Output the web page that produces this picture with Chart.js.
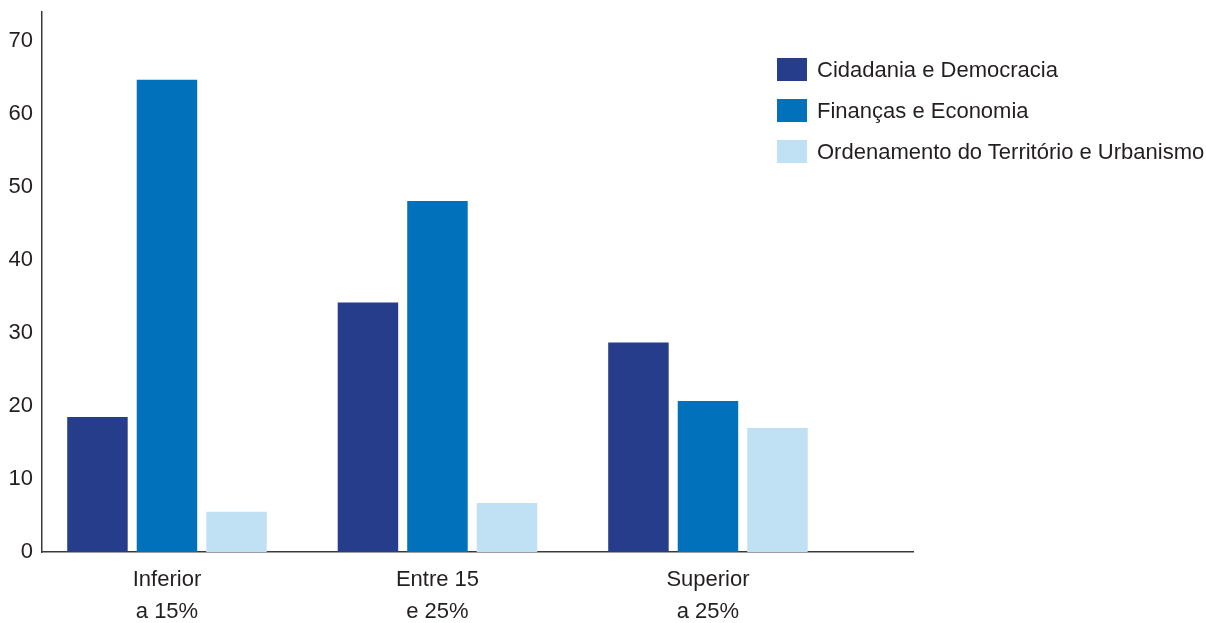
<!DOCTYPE html>
<html>
<head>
<meta charset="utf-8">
<title>Distribuição por tema</title>
<script src="https://cdn.jsdelivr.net/npm/chart.js@4.4.1/dist/chart.umd.min.js"></script>
<style>
    html, body { margin: 0; padding: 0; background: #fff; }
    #wrap { position: relative; width: 1206px; height: 623px; }
    #legend {
        position: absolute; left: 777px; top: 58px;
        font-family: 'Liberation Sans', Arial, sans-serif; font-size: 22px; color: #231f20;
    }
    .item { display: flex; align-items: center; height: 23px; margin-bottom: 18px; white-space: nowrap; }
    .swatch { width: 30px; height: 23px; margin-right: 10px; flex: none; }
</style>
</head>
<body>
<div id="wrap">
    <canvas id="chart"></canvas>
    <div id="legend"></div>
</div>
<script>
// Data
const categories = [['Inferior', 'a 15%'], ['Entre 15', 'e 25%'], ['Superior', 'a 25%']];
const seriesNames = ['Cidadania e Democracia', 'Finanças e Economia', 'Ordenamento do Território e Urbanismo'];
const cidadania = [18.5, 34.2, 28.7];
const financas = [64.7, 48.1, 20.7];
const ordenamento = [5.5, 6.7, 17.0];
const yTicks = [0, 10, 20, 30, 40, 50, 60, 70];

const seriesColors = ['#253d8b', '#0071ba', '#bfe1f3'];
const textColor = '#231f20';

Chart.defaults.font.family = "'Liberation Sans', Arial, sans-serif";
Chart.defaults.color = textColor;

function toPoints(values) {
    return values.map((v, i) => ({ x: i, y: v }));
}

const datasets = [cidadania, financas, ordenamento].map((values, i) => ({
    label: seriesNames[i],
    data: toPoints(values),
    backgroundColor: seriesColors[i],
    borderWidth: 0,
    categoryPercentage: 0.771,
    barPercentage: 0.87
}));

const ctx = document.getElementById('chart').getContext('2d');
const chart = new Chart(ctx, {
    type: 'bar',
    data: { datasets: datasets },
    options: {
        responsive: true,
        maintainAspectRatio: false,
        animation: false,
        layout: { padding: { top: 12, right: 293, left: 0, bottom: 0 } },
        plugins: {
            legend: { display: false },
            tooltip: { enabled: false }
        },
        scales: {
            x: {
                type: 'linear',
                offset: false,
                min: -0.462,
                max: 2.758,
                grid: { display: false, drawTicks: false },
                border: { display: true, color: '#3a3a3a', width: 1.5 },
                afterBuildTicks: function(scale) {
                    scale.ticks = categories.map((c, i) => ({ value: i }));
                },
                afterFit: function(scale) {
                    scale.height = 71;
                    scale.paddingLeft = 0;
                    scale.paddingRight = 0;
                },
                ticks: {
                    padding: 12,
                    maxRotation: 0,
                    autoSkip: false,
                    font: { size: 22, lineHeight: '32px' },
                    color: textColor,
                    callback: function(value) {
                        return categories[value] || '';
                    }
                }
            },
            y: {
                min: 0,
                max: 74,
                grid: { display: false, drawTicks: false },
                border: { display: true, color: '#3a3a3a', width: 1.5 },
                afterBuildTicks: function(scale) {
                    scale.ticks = yTicks.map(v => ({ value: v }));
                },
                afterFit: function(scale) {
                    scale.width = 42;
                    scale.paddingTop = 0;
                    scale.paddingBottom = 0;
                },
                ticks: {
                    padding: 9,
                    font: { size: 22 },
                    color: textColor
                }
            }
        }
    }
});

// Legend built from the chart's own datasets
const legendEl = document.getElementById('legend');
chart.data.datasets.forEach(ds => {
    const item = document.createElement('div');
    item.className = 'item';
    const sw = document.createElement('span');
    sw.className = 'swatch';
    sw.style.background = ds.backgroundColor;
    const label = document.createElement('span');
    label.textContent = ds.label;
    item.appendChild(sw);
    item.appendChild(label);
    legendEl.appendChild(item);
});
</script>
</body>
</html>
